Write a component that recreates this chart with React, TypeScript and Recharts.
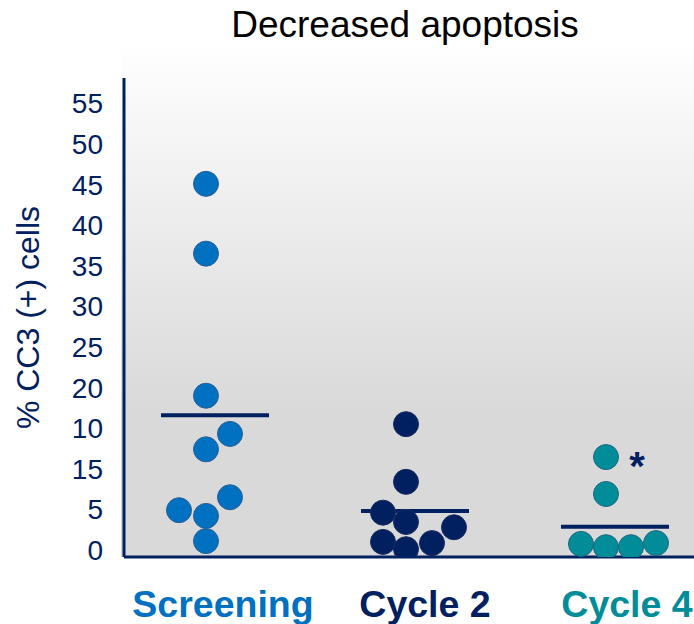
import React from 'react';
import { ScatterChart, Scatter, XAxis, YAxis, ReferenceLine, ReferenceDot } from 'recharts';

// ---- data ----
const categories = ['Screening', 'Cycle 2', 'Cycle 4'];
const categoryPositions = [1, 2, 3];
const yTickValues = [0, 5, 10, 15, 20, 25, 30, 35, 40, 45, 50, 55];
const yTickLabels = ['0', '5', '15', '10', '20', '25', '30', '35', '40', '45', '50', '55'];

const screeningValues = [45.1, 36.5, 19.0, 14.3, 12.4, 6.5, 4.9, 4.2, 1.1];
const screeningOffsets = [0, 0, 0, 0.12, 0, 0.12, -0.135, 0, 0];
const cycle2Values = [15.5, 8.4, 4.6, 3.45, 2.8, 1.0, 0.85, 0.1];
const cycle2Offsets = [0, 0, -0.115, 0, 0.24, -0.115, 0.13, 0];
const cycle4Values = [11.45, 6.9, 0.75, 0.35, 0.35, 0.85];
const cycle4Offsets = [0, 0, -0.125, 0, 0.125, 0.25];
const meanValues = [16.6, 4.8, 2.85];
const significantCategory = 2; // Cycle 4 marked with *

// ---- styling ----
const NAVY = '#002060';
const colors = ['#0070C0', '#002060', '#008C99'];
const strokes = ['#2a5f95', '#1b2d60', '#1f6680'];
const FONT = '"Liberation Sans", Arial, Helvetica, sans-serif';

const toPoints = (pos: number, vals: number[], offs: number[]) =>
  vals.map((v, i) => ({ x: pos + offs[i], y: v }));

const seriesData = [
  toPoints(categoryPositions[0], screeningValues, screeningOffsets),
  toPoints(categoryPositions[1], cycle2Values, cycle2Offsets),
  toPoints(categoryPositions[2], cycle4Values, cycle4Offsets),
];

const makeDot = (fill: string, stroke: string) => (props: any) => (
  <circle cx={props.cx} cy={props.cy} r={12.5} fill={fill} stroke={stroke} strokeWidth={1} />
);

const CategoryTick = (props: any) => {
  const idx = categoryPositions.indexOf(props.payload.value);
  if (idx < 0) return null;
  return (
    <text
      x={props.x + 17 + idx * 2}
      y={617}
      textAnchor="middle"
      fill={colors[idx]}
      fontSize={37.5}
      fontWeight="bold"
      fontFamily={FONT}
    >
      {categories[idx]}
    </text>
  );
};

const YLabel = (props: any) => {
  const vb = props.viewBox || { x: 0, y: 78, width: 124, height: 479 };
  const cx = 28;
  const cy = vb.y + vb.height / 2;
  return (
    <text
      x={cx}
      y={cy}
      transform={`rotate(-90 ${cx} ${cy})`}
      textAnchor="middle"
      dominantBaseline="central"
      fill={NAVY}
      fontSize={32}
      fontFamily={FONT}
    >
      % CC3 (+) cells
    </text>
  );
};

const LINE_LEFT = -0.225;
const LINE_RIGHT = 0.315;

export default function App() {
  return (
    <div style={{ position: 'absolute', left: 0, top: 0, width: 694, height: 624, background: '#fff' }}>
      <div
        style={{
          position: 'absolute',
          left: 121,
          top: 40,
          width: 573,
          height: 517,
          background: 'linear-gradient(to bottom, #ffffff 0%, #d9d9d9 72%, #d9d9d9 100%)',
        }}
      />
      <div
        style={{
          position: 'absolute',
          left: 0,
          top: 3,
          width: 810,
          textAlign: 'center',
          fontFamily: FONT,
          fontSize: 37,
          lineHeight: '43px',
          color: '#000',
        }}
      >
        Decreased apoptosis
      </div>
      <div style={{ position: 'absolute', left: 0, top: 0 }}>
        <ScatterChart width={694} height={624} margin={{ top: 78, right: 0, bottom: 0, left: 0 }}>
          <XAxis
            type="number"
            dataKey="x"
            domain={[0.59, 3.44]}
            ticks={categoryPositions}
            tick={<CategoryTick />}
            tickLine={false}
            axisLine={{ stroke: NAVY, strokeWidth: 3 }}
            allowDataOverflow
            height={67}
          />
          <YAxis
            type="number"
            dataKey="y"
            domain={[-0.86, 58.13]}
            ticks={yTickValues}
            tickFormatter={(v: number) => yTickLabels[yTickValues.indexOf(v)]}
            tick={{ fill: NAVY, fontSize: 28, fontFamily: FONT }}
            tickLine={false}
            tickSize={0}
            tickMargin={21}
            axisLine={{ stroke: NAVY, strokeWidth: 3 }}
            allowDataOverflow
            interval={0}
            width={124}
            label={<YLabel />}
          />
          {meanValues.map((m, i) => (
            <ReferenceLine
              key={`mean-${i}`}
              segment={[
                { x: categoryPositions[i] + LINE_LEFT, y: m },
                { x: categoryPositions[i] + LINE_RIGHT, y: m },
              ]}
              stroke={NAVY}
              strokeWidth={4}
            />
          ))}
          {seriesData.map((d, i) => (
            <Scatter
              key={categories[i]}
              name={categories[i]}
              data={d}
              fill={colors[i]}
              shape={makeDot(colors[i], strokes[i])}
              isAnimationActive={false}
            />
          ))}
          <ReferenceDot
            x={categoryPositions[significantCategory]}
            y={cycle4Values[0]}
            r={0}
            shape={(p: any) => (
              <text
                x={p.cx + 31}
                y={p.cy + 23}
                textAnchor="middle"
                fill={NAVY}
                fontSize={40}
                fontWeight="bold"
                fontFamily={FONT}
              >
                *
              </text>
            )}
          />
        </ScatterChart>
      </div>
    </div>
  );
}
